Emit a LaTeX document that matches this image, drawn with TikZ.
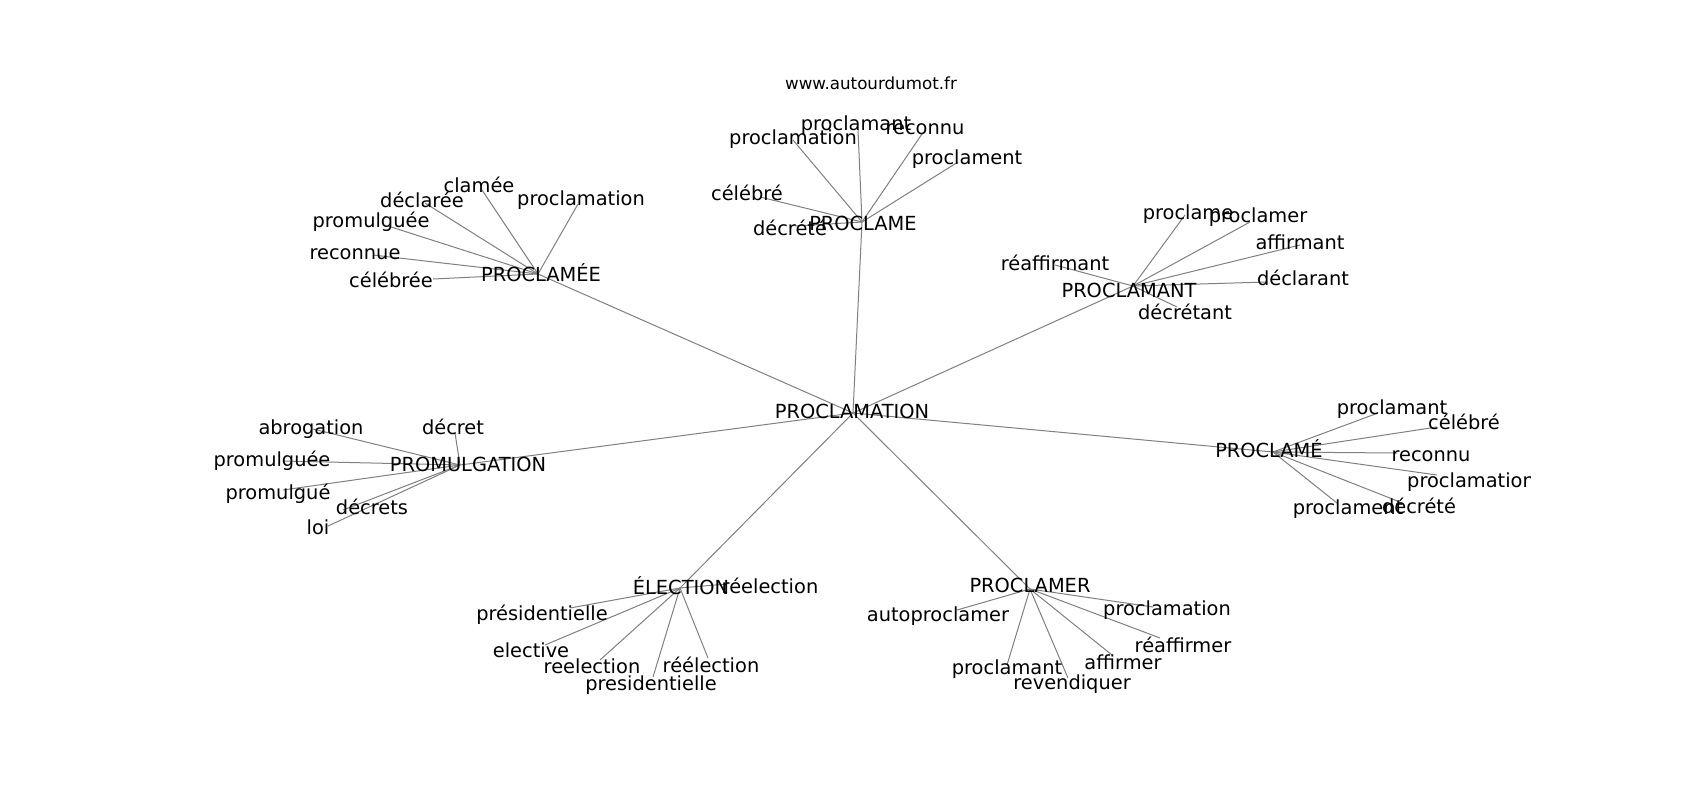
\documentclass[tikz,border=0pt]{standalone}
\usepackage{fontspec}
\setmainfont{DejaVu Sans}
\begin{document}
\begin{tikzpicture}[x=1pt,y=-1pt,
  lbl/.style={font=\fontsize{19.4}{23}\selectfont, inner sep=0pt, text height=0.76em, text depth=0.24em, anchor=center, yshift=-4pt},
  ttl/.style={font=\fontsize{16.7}{20}\selectfont, inner sep=0pt, anchor=center},
  edge/.style={draw=black!50, line width=1pt}]
\useasboundingbox (0,0) rectangle (1700,800);
\fill[white] (0,0) rectangle (1700,800);
\node[ttl] (title) at (871,83) {www.autourdumot.fr};
% graph points (edge ends)
\coordinate (c) at (853,413);
\coordinate (ee) at (538,274);
\coordinate (ee1) at (482,190);
\coordinate (ee2) at (425,203);
\coordinate (ee3) at (388,226);
\coordinate (ee4) at (578,204);
\coordinate (ee5) at (373,255);
\coordinate (ee6) at (433,279);
\coordinate (pe) at (862,222);
\coordinate (pe1) at (793,140);
\coordinate (pe2) at (858,130);
\coordinate (pe3) at (922,134);
\coordinate (pe4) at (958,162);
\coordinate (pe5) at (760,197);
\coordinate (pe6) at (795,226);
\coordinate (pa) at (1133,286);
\coordinate (pa1) at (1185,215);
\coordinate (pa2) at (1250,222);
\coordinate (pa3) at (1300,245);
\coordinate (pa4) at (1055,265);
\coordinate (pa5) at (1267,282);
\coordinate (pa6) at (1177,307);
\coordinate (pm) at (1273,452);
\coordinate (pm1) at (1378,413);
\coordinate (pm2) at (1437,427);
\coordinate (pm3) at (1397,453);
\coordinate (pm4) at (1437,475);
\coordinate (pm5) at (1337,503);
\coordinate (pm6) at (1400,502);
\coordinate (pr) at (1030,589);
\coordinate (pr1) at (957,610);
\coordinate (pr2) at (1153,607);
\coordinate (pr3) at (1160,638);
\coordinate (pr4) at (1112,655);
\coordinate (pr5) at (1007,665);
\coordinate (pr6) at (1068,678);
\coordinate (el) at (680,588);
\coordinate (el1) at (727,584);
\coordinate (el2) at (570,608);
\coordinate (el3) at (545,645);
\coordinate (el4) at (600,660);
\coordinate (el5) at (708,658);
\coordinate (el6) at (653,677);
\coordinate (pg) at (460,465);
\coordinate (pg1) at (313,429);
\coordinate (pg2) at (455,433);
\coordinate (pg3) at (283,461);
\coordinate (pg4) at (283,490);
\coordinate (pg5) at (343,510);
\coordinate (pg6) at (328,526);
% edges
\foreach \h in {ee,pe,pa,pm,pr,el,pg} {\draw[edge] (c) -- (\h);}
\foreach \h in {ee,pe,pa,pm,pr,el,pg} {
  \foreach \i in {1,...,6} {\draw[edge] (\h) -- (\h\i);}
}
\begin{scope}
\clip (212,96) rectangle (1530,712);
\node[lbl] (tc) at (852,412) {PROCLAMATION};
\node[lbl] (tee) at (541,275) {PROCLAMÉE};
\node[lbl] (tee1) at (479,186) {clamée};
\node[lbl] (tee2) at (422,201) {déclarée};
\node[lbl] (tee3) at (371,221) {promulguée};
\node[lbl] (tee4) at (581,199) {proclamation};
\node[lbl] (tee5) at (355,253) {reconnue};
\node[lbl] (tee6) at (391,281) {célébrée};
\node[lbl] (tpe) at (863,224) {PROCLAME};
\node[lbl] (tpe2) at (856,124) {proclamant};
\node[lbl] (tpe3) at (925,128) {reconnu};
\node[lbl] (tpe1) at (793,138) {proclamation};
\node[lbl] (tpe4) at (967,158) {proclament};
\node[lbl] (tpe5) at (747,194) {célébré};
\node[lbl] (tpe6) at (790,229) {décrété};
\node[lbl] (tpa) at (1129,291) {PROCLAMANT};
\node[lbl] (tpa1) at (1188,213) {proclame};
\node[lbl] (tpa2) at (1258,216) {proclamer};
\node[lbl] (tpa3) at (1300,243) {affirmant};
\node[lbl] (tpa4) at (1055,264) {réaffirmant};
\node[lbl] (tpa5) at (1303,279) {déclarant};
\node[lbl] (tpa6) at (1185,313) {décrétant};
\node[lbl] (tpm) at (1269,451) {PROCLAMÉ};
\node[lbl] (tpm1) at (1392,408) {proclamant};
\node[lbl] (tpm2) at (1464,423) {célébré};
\node[lbl] (tpm3) at (1431,455) {reconnu};
\node[lbl] (tpm4) at (1471,481) {proclamation};
\node[lbl] (tpm5) at (1348,508) {proclament};
\node[lbl] (tpm6) at (1419,507) {décrété};
\node[lbl] (tpg) at (468,465) {PROMULGATION};
\node[lbl] (tpg1) at (311,428) {abrogation};
\node[lbl] (tpg2) at (453,428) {décret};
\node[lbl] (tpg3) at (272,460) {promulguée};
\node[lbl] (tpg4) at (278,493) {promulgué};
\node[lbl] (tpg5) at (372,508) {décrets};
\node[lbl] (tpg6) at (318,528) {loi};
\node[lbl] (tel) at (681,588) {ÉLECTION};
\node[lbl] (tel1) at (770,587) {réelection};
\node[lbl] (tel2) at (542,614) {présidentielle};
\node[lbl] (tel3) at (531,651) {elective};
\node[lbl] (tel4) at (592,667) {reelection};
\node[lbl] (tel5) at (711,666) {réélection};
\node[lbl] (tel6) at (651,684) {presidentielle};
\node[lbl] (tpr) at (1030,586) {PROCLAMER};
\node[lbl] (tpr1) at (938,615) {autoproclamer};
\node[lbl] (tpr2) at (1167,609) {proclamation};
\node[lbl] (tpr3) at (1183,646) {réaffirmer};
\node[lbl] (tpr4) at (1123,663) {affirmer};
\node[lbl] (tpr5) at (1007,668) {proclamant};
\node[lbl] (tpr6) at (1072,683) {revendiquer};
\end{scope}
\end{tikzpicture}
\end{document}
